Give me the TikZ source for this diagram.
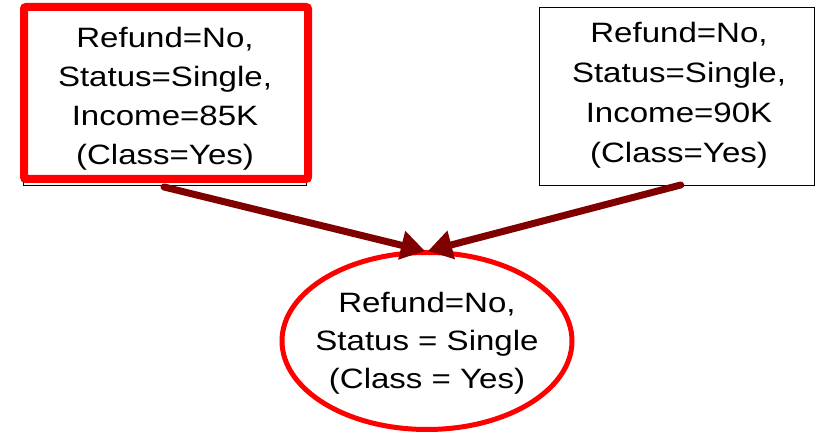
\documentclass[tikz,border=0pt]{standalone}
\usepackage{fontspec}
\usetikzlibrary{shapes.geometric,arrows.meta,calc}
\newfontfamily\arialx[FakeStretch=1.18]{Liberation Sans}
\definecolor{boxred}{RGB}{255,0,0}
\definecolor{arrowred}{RGB}{128,0,0}
\begin{document}
\begin{tikzpicture}[x=1pt,y=1pt,
  txt/.style={align=center, text=black, inner sep=0pt},
  redbox/.style={draw=boxred, line width=8pt, rounded corners=2pt, minimum width=284pt, minimum height=172pt, inner sep=0pt},
  thinbox/.style={draw=black, line width=1pt, minimum width=274.5pt, minimum height=178pt, inner sep=0pt},
  oval/.style={ellipse, draw=boxred, line width=5pt, minimum width=290pt, minimum height=177pt, inner sep=0pt},
  conn/.style={draw=arrowred, line width=7pt, line cap=round, -{Triangle[length=24pt,width=28pt]}}]
\useasboundingbox (0,0) rectangle (815,433);
\fill[white] (0,0) rectangle (815,433);
% thin box behind the red one
\node[draw=black, line width=1pt, minimum width=283pt, minimum height=177pt, inner sep=0pt] (ls) at (164.5,336.25) {};
\node[redbox, fill=white] (l) at (166,340) {};
\node[txt, font=\arialx\fontsize{28}{39}\selectfont] (lt) at (165,334.5) {Refund=No,\\Status=Single,\\Income=85K\\(Class=Yes)};
\node[thinbox, fill=white] (r) at (676.75,336.5) {};
\node[txt, font=\arialx\fontsize{28}{40}\selectfont] (rt) at (679,338) {Refund=No,\\Status=Single,\\Income=90K\\(Class=Yes)};
\node[oval] (e) at (427,92) {};
\node[txt, font=\arialx\fontsize{28}{38}\selectfont] (et) at (427,90) {Refund=No,\\Status = Single\\(Class = Yes)};
\draw[conn] ($(l.south)+(-2,-4)$) -- ($(e.north)+(-2,-1)$);
\draw[conn] ($(r.south)+(4,1)$) -- ($(e.north)+(1,-1)$);
\end{tikzpicture}
\end{document}
